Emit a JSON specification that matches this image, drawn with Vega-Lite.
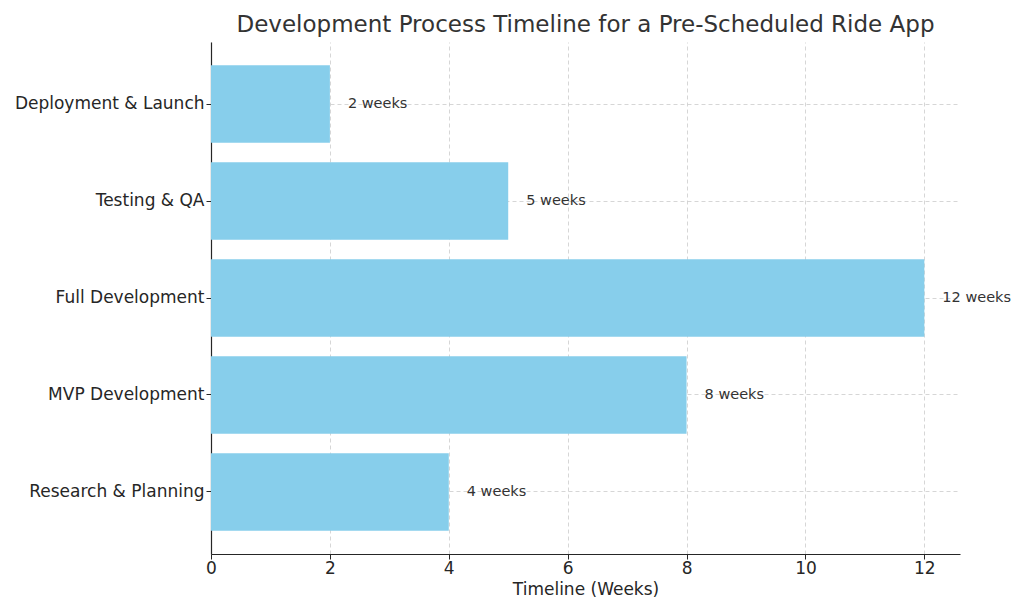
{
  "$schema": "https://vega.github.io/schema/vega-lite/v6.json",
  "autosize": {"type": "none"},
  "padding": {"left": 211, "top": 42, "right": 64, "bottom": 60},
  "width": 749,
  "height": 512,
  "background": "white",
  "title": {
    "text": "Development Process Timeline for a Pre-Scheduled Ride App",
    "font": "DejaVu Sans",
    "fontSize": 23,
    "fontWeight": "normal",
    "color": "#333333",
    "anchor": "middle",
    "offset": 5
  },
  "config": {
    "view": {"stroke": null},
    "font": "DejaVu Sans"
  },
  "data": {
    "values": [
      {"phase": "Research & Planning", "weeks": 4, "label": "4 weeks"},
      {"phase": "MVP Development", "weeks": 8, "label": "8 weeks"},
      {"phase": "Full Development", "weeks": 12, "label": "12 weeks"},
      {"phase": "Testing & QA", "weeks": 5, "label": "5 weeks"},
      {"phase": "Deployment & Launch", "weeks": 2, "label": "2 weeks"}
    ]
  },
  "encoding": {
    "y": {
      "field": "phase",
      "type": "nominal",
      "sort": ["Deployment & Launch", "Testing & QA", "Full Development", "MVP Development", "Research & Planning"],
      "scale": {"paddingInner": 0.2, "paddingOuter": 0.24},
      "axis": {
        "title": null,
        "labelFont": "DejaVu Sans",
        "labelFontSize": 17,
        "labelColor": "#262626",
        "labelPadding": 2,
        "labelLimit": 400,
        "tickSize": 5,
        "tickColor": "#262626",
        "domainColor": "#262626",
        "domainWidth": 1.2,
        "grid": true,
        "gridDash": [4, 3],
        "gridColor": "#cccccc",
        "gridWidth": 0.8,
        "bandPosition": 0.5
      }
    },
    "x": {
      "field": "weeks",
      "type": "quantitative",
      "scale": {"domain": [0, 12.6], "nice": false, "zero": true},
      "axis": {
        "title": "Timeline (Weeks)",
        "titleFont": "DejaVu Sans",
        "titleFontSize": 17,
        "titleFontWeight": "normal",
        "titleColor": "#262626",
        "titlePadding": 5,
        "values": [0, 2, 4, 6, 8, 10, 12],
        "format": "d",
        "labelFlush": false,
        "labelFont": "DejaVu Sans",
        "labelFontSize": 17,
        "labelColor": "#262626",
        "labelPadding": 1,
        "tickSize": 5,
        "tickColor": "#262626",
        "domainColor": "#262626",
        "domainWidth": 1.2,
        "grid": true,
        "gridDash": [4, 3],
        "gridColor": "#cccccc",
        "gridWidth": 0.8
      }
    }
  },
  "layer": [
    {
      "mark": {"type": "bar", "color": "#87CEEB"}
    },
    {
      "mark": {
        "type": "text",
        "align": "left",
        "baseline": "middle",
        "dx": 18,
        "font": "DejaVu Sans",
        "fontSize": 14.5,
        "color": "#333333"
      },
      "encoding": {
        "text": {"field": "label", "type": "nominal"}
      }
    }
  ]
}
